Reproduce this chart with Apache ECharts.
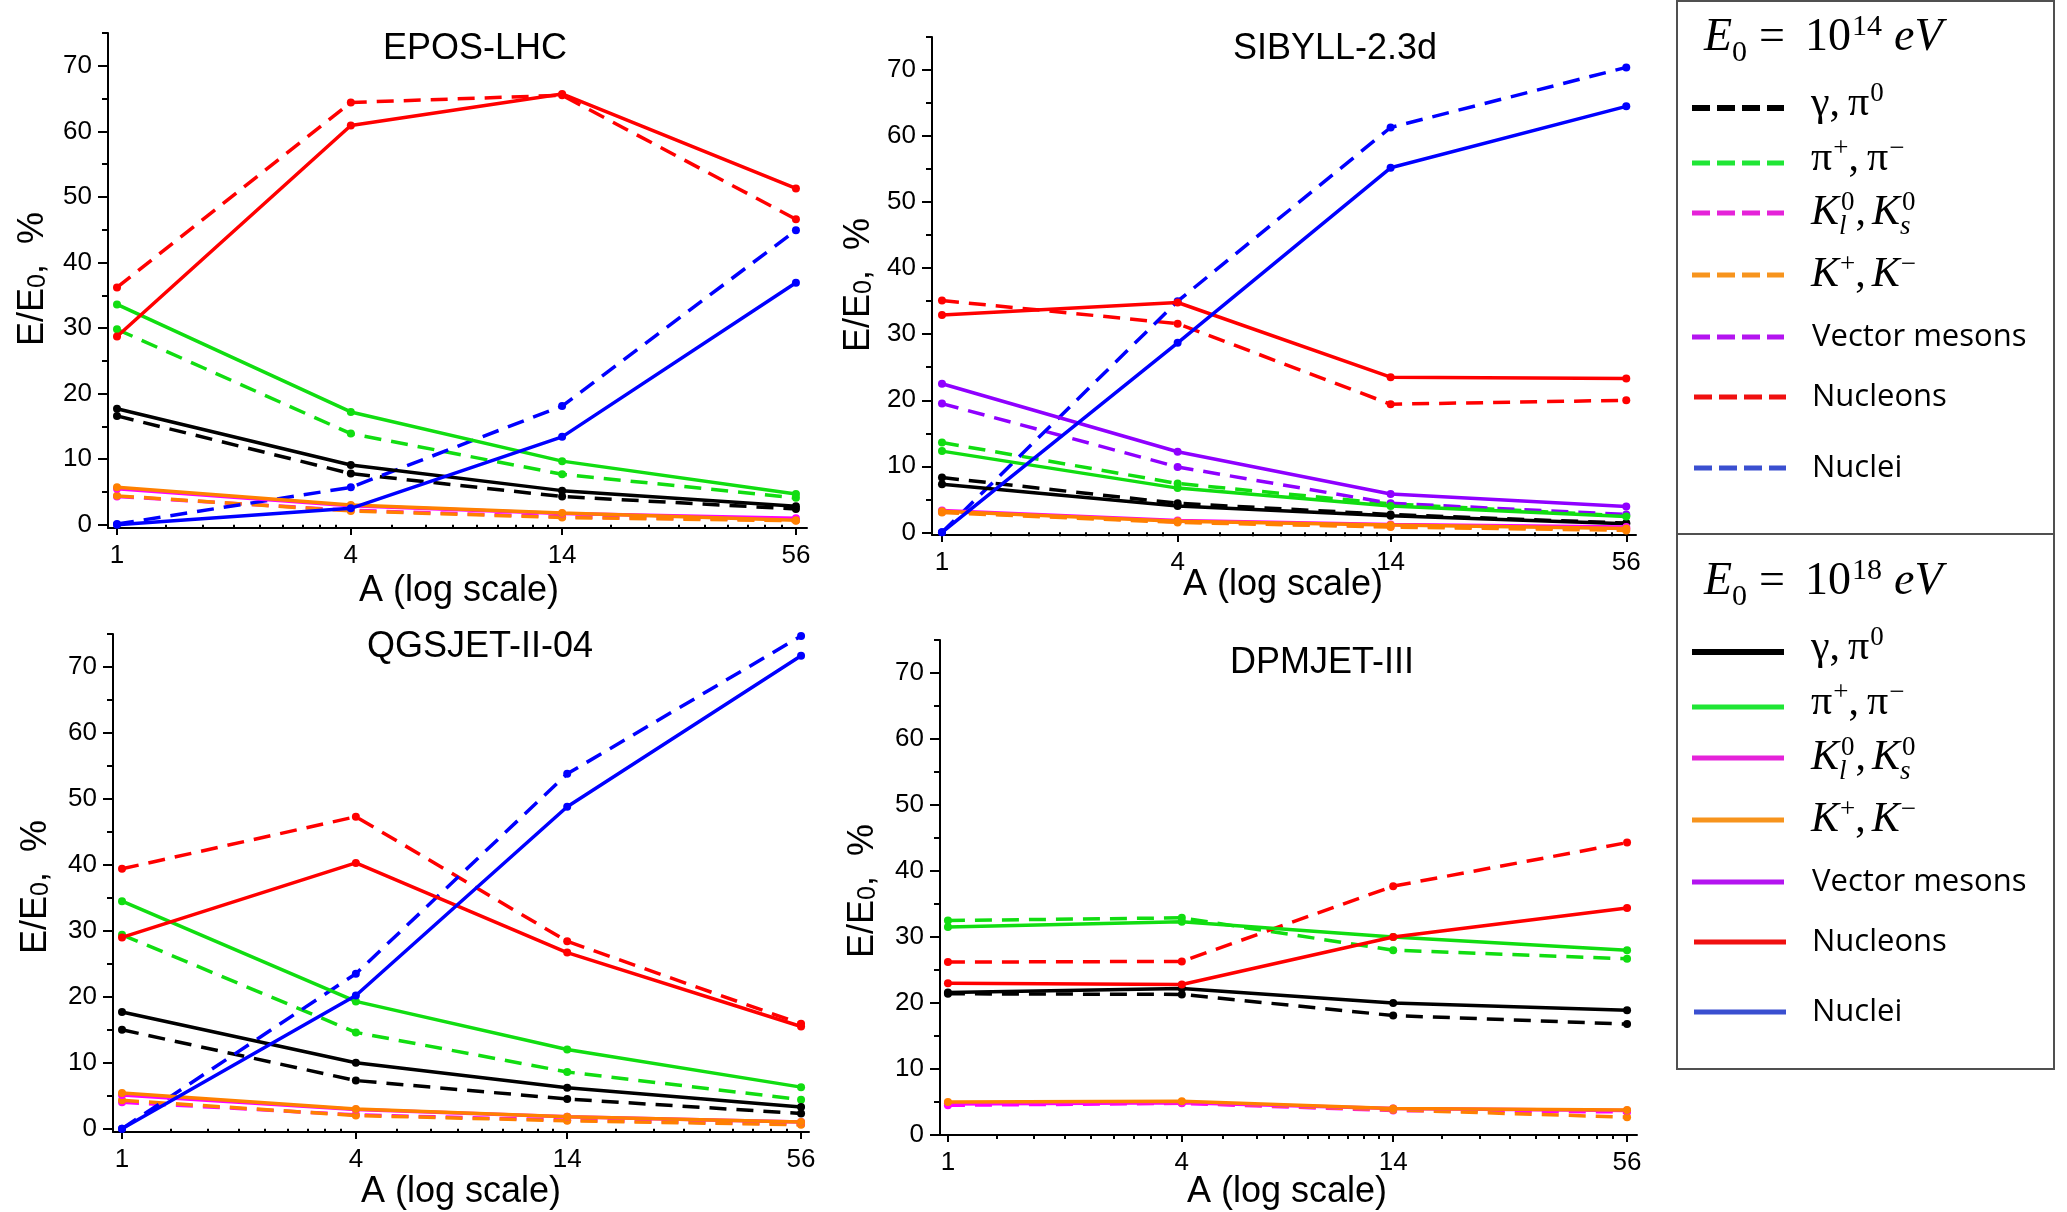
<!DOCTYPE html>
<html>
<head>
<meta charset="utf-8">
<script src="https://cdn.jsdelivr.net/npm/echarts@6/dist/echarts.min.js"></script>
<style>
  html, body { margin: 0; padding: 0; background: #fff; }
  #main { width: 2067px; height: 1212px; }
</style>
</head>
<body>
<div id="main"></div>
<script>
// mass number of the primary nucleus (p, He, N, Fe)
const A = [1, 4, 14, 56];
const yTicks = [0, 10, 20, 30, 40, 50, 60, 70];
const yMinorTicks = [5, 15, 25, 35, 45, 55, 65, 75];

// EPOS-LHC : *14 = 1e14 eV (dashed), *18 = 1e18 eV (solid)
const eposGamma14 = [16.6, 7.8, 4.3, 2.4];
const eposGamma18 = [17.7, 9.1, 5.2, 2.8];
const eposPion14 = [29.8, 13.9, 7.7, 4.1];
const eposPion18 = [33.6, 17.2, 9.7, 4.7];
const eposK014 = [4.3, 2.2, 1.2, 0.7];
const eposK018 = [5.5, 2.9, 1.7, 1.0];
const eposKch14 = [4.4, 2.1, 1.1, 0.6];
const eposKch18 = [5.7, 3.0, 1.8, 0.7];
const eposNucleons14 = [36.2, 64.4, 65.5, 46.6];
const eposNucleons18 = [28.7, 60.9, 65.7, 51.3];
const eposNuclei14 = [0.1, 5.7, 18.1, 44.9];
const eposNuclei18 = [0, 2.5, 13.4, 36.9];

// SIBYLL-2.3d
const sibGamma14 = [8.3, 4.4, 2.7, 1.4];
const sibGamma18 = [7.3, 4.0, 2.5, 1.3];
const sibPion14 = [13.6, 7.4, 4.3, 2.5];
const sibPion18 = [12.3, 6.7, 4.0, 2.4];
const sibK014 = [3.1, 1.6, 0.9, 0.5];
const sibK018 = [3.3, 1.8, 1.2, 0.8];
const sibKch14 = [3.0, 1.5, 0.8, 0.3];
const sibKch18 = [3.2, 1.7, 1.1, 0.6];
const sibVector14 = [19.5, 9.9, 4.4, 2.7];
const sibVector18 = [22.5, 12.2, 5.8, 3.9];
const sibNucleons14 = [35.1, 31.6, 19.4, 20.0];
const sibNucleons18 = [32.9, 34.8, 23.5, 23.3];
const sibNuclei14 = [0, 35.0, 61.3, 70.4];
const sibNuclei18 = [0, 28.7, 55.2, 64.5];

// QGSJET-II-04
const qgsGamma14 = [15.0, 7.3, 4.5, 2.3];
const qgsGamma18 = [17.7, 10.0, 6.2, 3.3];
const qgsPion14 = [29.4, 14.6, 8.6, 4.4];
const qgsPion18 = [34.5, 19.3, 12.0, 6.3];
const qgsK014 = [4.0, 2.1, 1.3, 0.7];
const qgsK018 = [5.1, 2.9, 1.8, 1.0];
const qgsKch14 = [4.3, 2.0, 1.2, 0.6];
const qgsKch18 = [5.4, 3.0, 1.8, 1.0];
const qgsNucleons14 = [39.4, 47.3, 28.4, 15.9];
const qgsNucleons18 = [29.0, 40.3, 26.7, 15.5];
const qgsNuclei14 = [0, 23.5, 53.8, 74.7];
const qgsNuclei18 = [0, 20.2, 48.8, 71.7];

// DPMJET-III
const dpmGamma14 = [21.4, 21.3, 18.1, 16.8];
const dpmGamma18 = [21.6, 22.2, 20.0, 18.9];
const dpmPion14 = [32.5, 32.9, 28.0, 26.7];
const dpmPion18 = [31.5, 32.3, 30.0, 28.0];
const dpmK014 = [4.5, 4.8, 3.7, 3.5];
const dpmK018 = [4.7, 4.9, 4.0, 3.7];
const dpmKch14 = [4.8, 4.9, 3.8, 2.7];
const dpmKch18 = [5.0, 5.1, 4.0, 3.8];
const dpmNucleons14 = [26.2, 26.3, 37.7, 44.3];
const dpmNucleons18 = [23.0, 22.8, 30.0, 34.4];

const SANS = '"Liberation Sans", Arial, sans-serif';
const SERIF = '"Liberation Serif", "Times New Roman", serif';
const LEG_SANS = '"Open Sans", sans-serif';

// plot colours / legend colours
const colors = {
  gamma: '#000000', pion: '#11dd11', k0: '#ff00ff', kch: '#ff8000',
  vector: '#8f00ff', nucleons: '#ff0000', nuclei: '#0000ff'
};
const legendColors = {
  gamma: '#000000', pion: '#1fe635', k0: '#e523d9', kch: '#f7941d',
  vector: '#b414f0', nucleons: '#f01010', nuclei: '#3a4fd0'
};
const order = ['gamma', 'pion', 'k0', 'kch', 'vector', 'nucleons', 'nuclei'];

const panels = [
  { name: 'EPOS-LHC', box: [108, 33, 807, 528], xRange: [0.948, 59.8], yMin: -0.5,
    title: [475, 49], xName: [459, 591], yName: [33, 279],
    lines: { gamma: [eposGamma14, eposGamma18], pion: [eposPion14, eposPion18],
      k0: [eposK014, eposK018], kch: [eposKch14, eposKch18],
      nucleons: [eposNucleons14, eposNucleons18], nuclei: [eposNuclei14, eposNuclei18] } },
  { name: 'SIBYLL-2.3d', box: [932, 37, 1636, 535], xRange: [0.943, 59.3], yMin: -0.4,
    title: [1335, 49], xName: [1283, 585], yName: [859, 285],
    lines: { gamma: [sibGamma14, sibGamma18], pion: [sibPion14, sibPion18],
      k0: [sibK014, sibK018], kch: [sibKch14, sibKch18], vector: [sibVector14, sibVector18],
      nucleons: [sibNucleons14, sibNucleons18], nuclei: [sibNuclei14, sibNuclei18] } },
  { name: 'QGSJET-II-04', box: [113, 634, 809, 1132], xRange: [0.948, 58.7], yMin: -0.5,
    title: [480, 647], xName: [461, 1192], yName: [36, 887],
    lines: { gamma: [qgsGamma14, qgsGamma18], pion: [qgsPion14, qgsPion18],
      k0: [qgsK014, qgsK018], kch: [qgsKch14, qgsKch18],
      nucleons: [qgsNucleons14, qgsNucleons18], nuclei: [qgsNuclei14, qgsNuclei18] } },
  { name: 'DPMJET-III', box: [940, 640, 1637, 1135], xRange: [0.954, 59.4], yMin: 0,
    title: [1322, 663], xName: [1287, 1192], yName: [863, 891],
    lines: { gamma: [dpmGamma14, dpmGamma18], pion: [dpmPion14, dpmPion18],
      k0: [dpmK014, dpmK018], kch: [dpmKch14, dpmKch18],
      nucleons: [dpmNucleons14, dpmNucleons18] } }
];

// minor ticks: 8 evenly spaced values between neighbouring labelled A values
const xMinor = [];
for (let i = 0; i < A.length - 1; i++) {
  const step = (A[i + 1] - A[i]) / 9;
  for (let k = 1; k < 9; k++) xMinor.push(A[i] + k * step);
}

const tickFont = { fontSize: 26, fontFamily: SANS, color: '#000' };

const grid = [], xAxis = [], yAxis = [], series = [], graphic = [];

panels.forEach((p, i) => {
  const [l, t, r, b] = p.box;
  grid.push({ left: l, top: t, width: r - l, height: b - t });
  const axisLine = { show: true, onZero: false, lineStyle: { color: '#000', width: 2 } };
  xAxis.push({
    type: 'log', gridIndex: i, min: p.xRange[0], max: p.xRange[1], position: 'bottom',
    axisLine,
    axisTick: { show: true, customValues: A, length: 7, lineStyle: { color: '#000', width: 2 } },
    axisLabel: Object.assign({ customValues: A, formatter: v => String(Math.round(v)), margin: 15 }, tickFont),
    splitLine: { show: false }, minorTick: { show: false }
  });
  xAxis.push({
    type: 'log', gridIndex: i, min: p.xRange[0], max: p.xRange[1], position: 'bottom',
    axisLine: { show: false },
    axisTick: { show: true, customValues: xMinor, length: 4, lineStyle: { color: '#000', width: 2 } },
    axisLabel: { show: false }, splitLine: { show: false }
  });
  yAxis.push({
    type: 'value', gridIndex: i, min: p.yMin, max: 75, position: 'left',
    axisLine,
    axisTick: { show: true, customValues: yTicks, length: 10, lineStyle: { color: '#000', width: 2 } },
    axisLabel: Object.assign({ customValues: yTicks, margin: 16 }, tickFont),
    splitLine: { show: false }
  });
  yAxis.push({
    type: 'value', gridIndex: i, min: p.yMin, max: 75, position: 'left',
    axisLine: { show: false },
    axisTick: { show: true, customValues: yMinorTicks, length: 6, lineStyle: { color: '#000', width: 2 } },
    axisLabel: { show: false }, splitLine: { show: false }
  });

  // dashed (1e14) first, solid (1e18) on top
  [0, 1].forEach(e => {
    order.forEach((key, k) => {
      const pair = p.lines[key];
      if (!pair) return;
      series.push({
        name: key + (e ? '-1e18' : '-1e14'),
        type: 'line', xAxisIndex: 2 * i, yAxisIndex: 2 * i,
        data: A.map((a, j) => [a, pair[e][j]]),
        symbol: 'circle', symbolSize: 8, showSymbol: true,
        lineStyle: { color: colors[key], width: 3.5, type: e ? 'solid' : [17, 10] },
        itemStyle: { color: colors[key] },
        z: 2 + e * 10 + k,
        silent: true
      });
    });
  });

  graphic.push({ type: 'text', x: p.title[0], y: p.title[1],
    style: { text: p.name, fontSize: 36, fontFamily: SANS, fill: '#000', align: 'center', verticalAlign: 'middle' } });
  graphic.push({ type: 'text', x: p.xName[0], y: p.xName[1],
    style: { text: 'A (log scale)', fontSize: 36, fontFamily: SANS, fill: '#000', align: 'center', verticalAlign: 'middle' } });
  graphic.push({ type: 'text', x: p.yName[0], y: p.yName[1], rotation: Math.PI / 2,
    style: { text: 'E/E{s|0},  %', fontSize: 36, fontFamily: SANS, fill: '#000', align: 'center', verticalAlign: 'middle',
      rich: { s: { fontSize: 25, fontFamily: SANS, fill: '#000', verticalAlign: 'bottom', lineHeight: 22 } } } });
});

// ---- legend (two boxes) ----
const mctx = document.createElement('canvas').getContext('2d');
function textWidth(s, size, italic, family) {
  mctx.font = (italic ? 'italic ' : '') + size + 'px ' + family;
  return mctx.measureText(s).width;
}
function txt(x, y, s, size, italic, family) {
  return { type: 'text', x, y, style: { text: s, fontSize: size, fontStyle: italic ? 'italic' : 'normal',
    fontFamily: family, fill: '#000', align: 'left', verticalAlign: 'middle' } };
}
// tokens: ['t', text, italic] | ['sup', text] | ['sub', text] | ['ss', sup, sub] | ['gap', px]
function mathRow(x, y, size, tokens) {
  const out = [];
  const small = Math.round(size * 0.65);
  tokens.forEach(tk => {
    if (tk[0] === 't') {
      out.push(txt(x, y, tk[1], size, tk[2], SERIF));
      x += textWidth(tk[1], size, tk[2], SERIF);
    } else if (tk[0] === 'sup') {
      out.push(txt(x + 1, y - size * 0.24, tk[1], small, false, SERIF));
      x += textWidth(tk[1], small, false, SERIF) + 1;
    } else if (tk[0] === 'sub') {
      out.push(txt(x, y + size * 0.33, tk[1], small, false, SERIF));
      x += textWidth(tk[1], small, false, SERIF);
    } else if (tk[0] === 'ss') {
      out.push(txt(x + 2, y - size * 0.24, tk[1], small, false, SERIF));
      out.push(txt(x, y + size * 0.33, tk[2], small, true, SERIF));
      x += Math.max(textWidth(tk[1], small, false, SERIF) + 2, textWidth(tk[2], small, true, SERIF)) + 1;
    } else if (tk[0] === 'gap') {
      x += tk[1];
    }
  });
  return out;
}

const legendLabels = [
  [['t', 'γ,'], ['gap', 8], ['t', 'π'], ['sup', '0']],
  [['t', 'π'], ['sup', '+'], ['t', ','], ['gap', 8], ['t', 'π'], ['sup', '−']],
  [['t', 'K', true], ['ss', '0', 'l'], ['t', ','], ['gap', 6], ['t', 'K', true], ['ss', '0', 's']],
  [['t', 'K', true], ['sup', '+'], ['t', ','], ['gap', 6], ['t', 'K', true], ['sup', '−']],
  'Vector mesons', 'Nucleons', 'Nuclei'
];
const legendBoxes = [
  { exp: '14', top: 1, bottom: 534, titleY: 38, rows: [108, 163, 213, 275, 337, 397, 468], dashed: true },
  { exp: '18', top: 534, bottom: 1069, titleY: 582, rows: [652, 707, 758, 820, 882, 942, 1012], dashed: false }
];
legendBoxes.forEach(bx => {
  graphic.push({ type: 'rect', shape: { x: 1677, y: bx.top, width: 377, height: bx.bottom - bx.top },
    style: { fill: 'none', stroke: '#505050', lineWidth: 2 } });
  mathRow(1704, bx.titleY, 46, [['t', 'E', true], ['sub', '0'], ['gap', 12], ['t', '='], ['gap', 20],
    ['t', '10'], ['sup', bx.exp], ['gap', 12], ['t', 'eV', true]]).forEach(g => graphic.push(g));
  order.forEach((key, k) => {
    const y = bx.rows[k];
    const x0 = k >= 5 ? 1694 : 1692;
    graphic.push({ type: 'line', shape: { x1: x0, y1: y, x2: x0 + 92, y2: y },
      style: { stroke: legendColors[key], lineWidth: key === 'gamma' ? 6 : 5,
        lineDash: bx.dashed ? [18, 7] : null } });
    const lab = legendLabels[k];
    if (typeof lab === 'string') {
      graphic.push(txt(1812, y, lab, 31, false, LEG_SANS));
    } else {
      const yy = (k === 0 || k === 1) ? y - 4 : y;
      mathRow(1811, yy, 42, lab).forEach(g => graphic.push(g));
    }
  });
});

const chart = echarts.init(document.getElementById('main'), null, { renderer: 'canvas' });
chart.setOption({
  backgroundColor: '#ffffff',
  animation: false,
  grid, xAxis, yAxis, series, graphic
});
</script>
</body>
</html>
